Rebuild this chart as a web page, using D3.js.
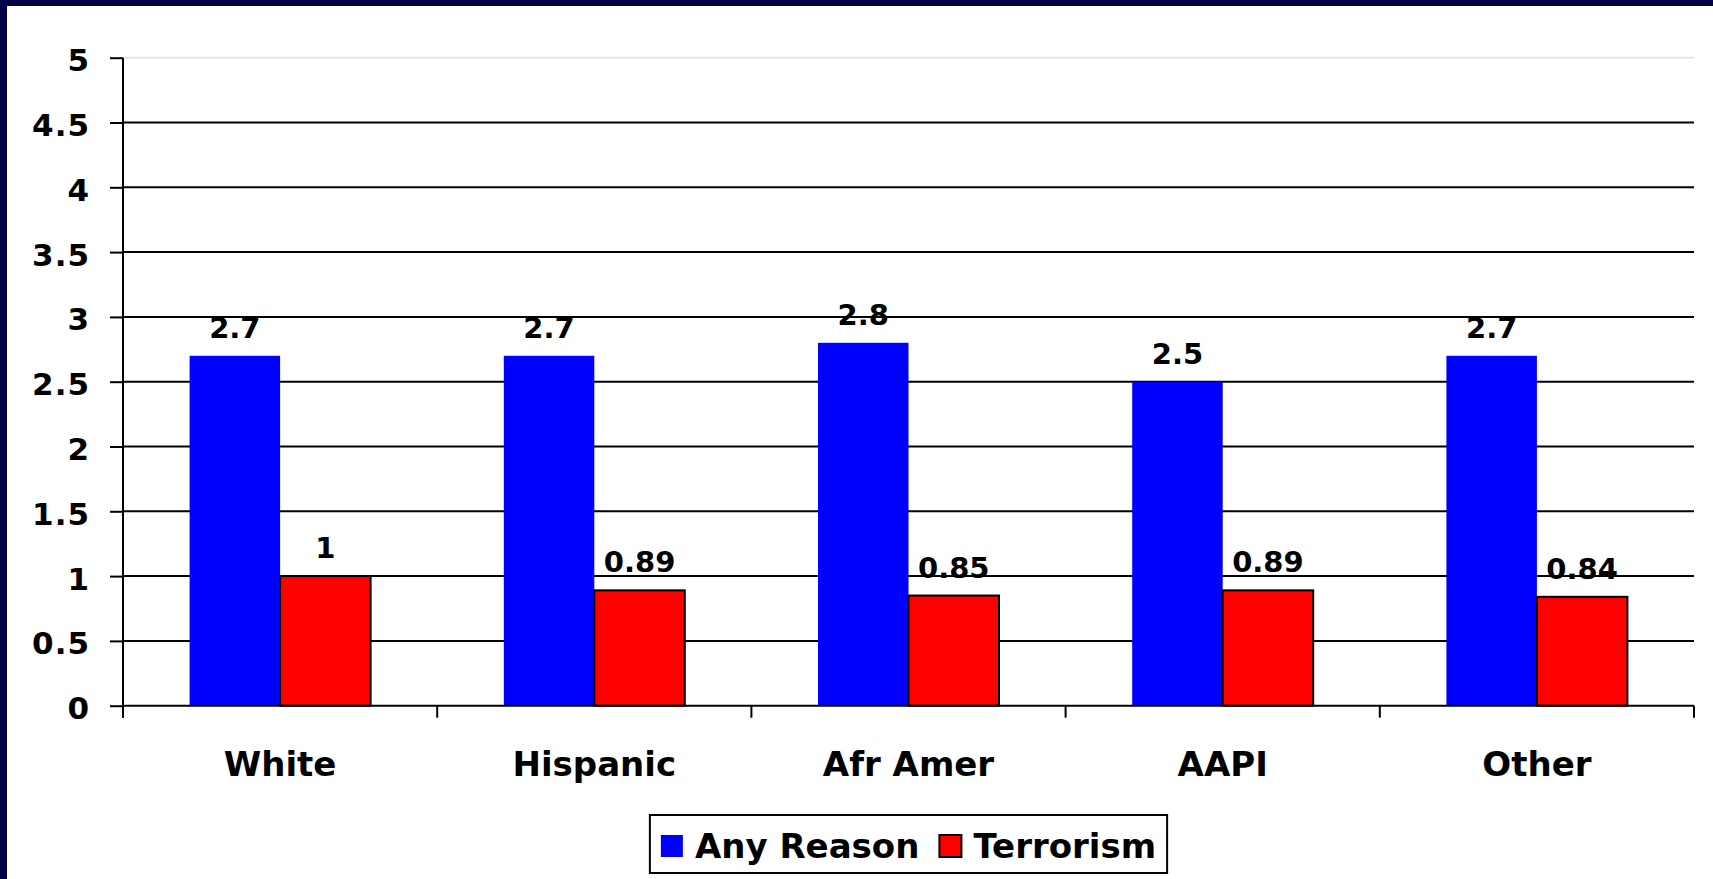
<!DOCTYPE html>
<html>
<head>
<meta charset="utf-8">
<script src="https://cdn.jsdelivr.net/npm/d3@7"></script>
<style>
  html, body { margin: 0; padding: 0; background: #ffffff; }
  svg { display: block; }
  text { font-family: "DejaVu Sans", Verdana, sans-serif; font-weight: bold; fill: #000; }
</style>
</head>
<body>
<svg id="chart" width="1713" height="879"></svg>
<script>
// Groups along the x axis
const categories = ["White", "Hispanic", "Afr Amer", "AAPI", "Other"];
// Series names and colours
const seriesNames = ["Any Reason", "Terrorism"];
const seriesColors = ["#0000ff", "#ff0000"];
// Values per series, in category order
const anyReason = [2.7, 2.7, 2.8, 2.5, 2.7];
const terrorism = [1, 0.89, 0.85, 0.89, 0.84];
// Value axis ticks
const yTicks = [0, 0.5, 1, 1.5, 2, 2.5, 3, 3.5, 4, 4.5, 5];

const seriesValues = [anyReason, terrorism];
const rows = categories.map((c, i) => ({
  category: c,
  values: seriesNames.map((s, j) => ({ series: s, value: seriesValues[j][i], color: seriesColors[j] }))
}));

const W = 1713, H = 879;
const plot = { left: 123, right: 1694, top: 57.7, bottom: 705.7 };

const svg = d3.select("#chart");

// Frame: white page with a navy strip along the top and left edges
svg.append("rect").attr("x", 0).attr("y", 0).attr("width", W).attr("height", H).attr("fill", "#ffffff");
svg.append("rect").attr("x", 0).attr("y", 0).attr("width", W).attr("height", 6).attr("fill", "#000046");
svg.append("rect").attr("x", 0).attr("y", 0).attr("width", 7).attr("height", H).attr("fill", "#000046");

const y = d3.scaleLinear().domain([0, 5]).range([plot.bottom, plot.top]);
const x0 = d3.scaleBand().domain(categories).range([plot.left, plot.right]).padding(0);
const x1 = d3.scaleBand().domain(seriesNames).range([0, x0.bandwidth()]).paddingInner(0).paddingOuter(0.736);

// Horizontal gridlines
svg.append("g").selectAll("line")
  .data(yTicks.filter(t => t > 0))
  .join("line")
  .attr("x1", plot.left).attr("x2", plot.right)
  .attr("y1", d => y(d)).attr("y2", d => y(d))
  .attr("stroke", d => d === 5 ? "#e4e4e4" : "#000")
  .attr("stroke-width", 2);

// Bars
const groups = svg.append("g").selectAll("g")
  .data(rows)
  .join("g")
  .attr("transform", d => `translate(${x0(d.category)},0)`);

groups.selectAll("rect")
  .data(d => d.values)
  .join("rect")
  .attr("x", d => x1(d.series))
  .attr("y", d => y(d.value))
  .attr("width", x1.bandwidth())
  .attr("height", d => y(0) - y(d.value))
  .attr("fill", d => d.color)
  .attr("stroke", d => d.series === "Terrorism" ? "#000" : "none")
  .attr("stroke-width", 2);

// Value labels above the bars
groups.selectAll("text")
  .data(d => d.values)
  .join("text")
  .attr("x", d => x1(d.series) + x1.bandwidth() / 2)
  .attr("y", d => y(d.value) - 18)
  .attr("text-anchor", "middle")
  .style("font-size", "29px")
  .text(d => d3.format("~g")(d.value));

// Y axis
const yAxis = d3.axisLeft(y).tickValues(yTicks).tickSize(13).tickPadding(20).tickFormat(d3.format("~g"));
const gy = svg.append("g").attr("transform", `translate(${plot.left},0)`).call(yAxis);
gy.select(".domain").remove();
gy.selectAll(".tick line").attr("stroke", "#000").attr("stroke-width", 2);
gy.selectAll(".tick text")
  .attr("dy", "0.42em")
  .style("font-size", "31px")
  .style("letter-spacing", "1px")
  .style("font-family", "'DejaVu Sans', Verdana, sans-serif")
  .style("font-weight", "bold")
  .attr("fill", "#000");
svg.append("line")
  .attr("x1", plot.left).attr("x2", plot.left)
  .attr("y1", plot.top).attr("y2", plot.bottom + 12)
  .attr("stroke", "#000").attr("stroke-width", 2);

// X axis: baseline with ticks at the group boundaries
svg.append("line")
  .attr("x1", plot.left).attr("x2", plot.right)
  .attr("y1", plot.bottom).attr("y2", plot.bottom)
  .attr("stroke", "#000").attr("stroke-width", 2);
const boundaries = categories.map(c => x0(c)).concat([x0(categories[categories.length - 1]) + x0.bandwidth()]);
svg.append("g").selectAll("line")
  .data(boundaries)
  .join("line")
  .attr("x1", d => d).attr("x2", d => d)
  .attr("y1", plot.bottom).attr("y2", plot.bottom + 12)
  .attr("stroke", "#000").attr("stroke-width", 2);

svg.append("g").selectAll("text")
  .data(categories)
  .join("text")
  .attr("x", d => x0(d) + x0.bandwidth() / 2)
  .attr("y", 776)
  .attr("text-anchor", "middle")
  .style("font-size", "34px")
  .text(d => d);

// Legend, centred under the plot area
const legend = svg.append("g");
const legendBox = legend.append("rect")
  .attr("fill", "#fff").attr("stroke", "#000").attr("stroke-width", 2);
const sw = 22, gapAfterSwatch = 12, gapBetween = 20, padX = 11;
let cx = 0;
const items = [];
seriesNames.forEach((s, i) => {
  const g = legend.append("g");
  g.append("rect")
    .attr("x", cx).attr("y", -23).attr("width", sw).attr("height", sw)
    .attr("fill", seriesColors[i])
    .attr("stroke", i === 1 ? "#000" : "none").attr("stroke-width", 2);
  const t = g.append("text")
    .attr("x", cx + sw + gapAfterSwatch).attr("y", 0)
    .style("font-size", "34px")
    .text(s);
  cx += sw + gapAfterSwatch + t.node().getComputedTextLength() + gapBetween;
  items.push(g);
});
const contentW = cx - gapBetween;
const boxW = contentW + padX * 2;
const boxX = (plot.left + plot.right) / 2 - boxW / 2;
legendBox.attr("x", boxX).attr("y", 815).attr("width", boxW).attr("height", 58);
items.forEach(g => g.attr("transform", `translate(${boxX + padX},858)`));
</script>
</body>
</html>
